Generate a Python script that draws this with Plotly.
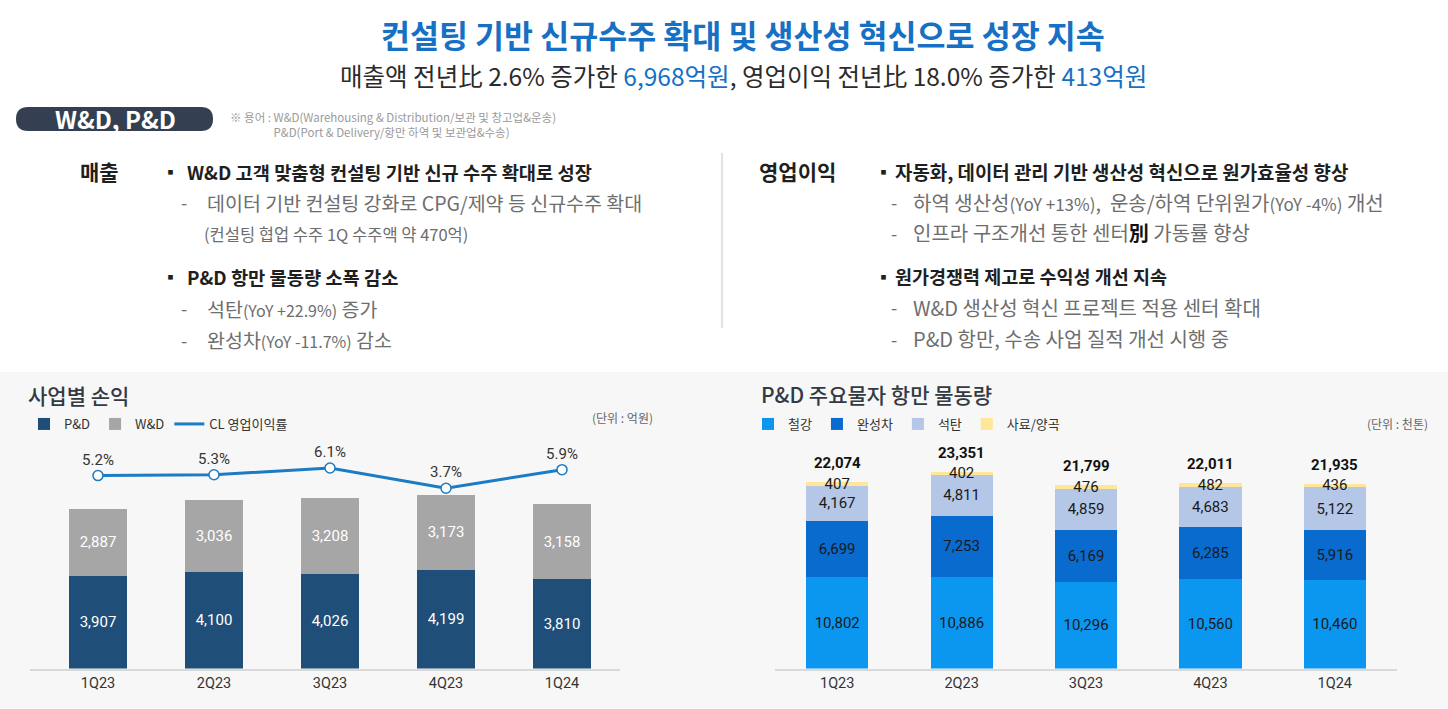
import plotly.graph_objects as go

W, H = 1448, 709

# ---------------- data ----------------
quarters = ["1Q23", "2Q23", "3Q23", "4Q23", "1Q24"]
pd_rev = [3907, 4100, 4026, 4199, 3810]
wd_rev = [2887, 3036, 3208, 3173, 3158]
cl_margin = [5.2, 5.3, 6.1, 3.7, 5.9]

steel = [10802, 10886, 10296, 10560, 10460]
cars = [6699, 7253, 6169, 6285, 5916]
coal = [4167, 4811, 4859, 4683, 5122]
grain = [407, 402, 476, 482, 436]
totals = [22074, 23351, 21799, 22011, 21935]

# ---------------- helpers ----------------
def px(x):
    return x / W


def py(y):
    return 1 - y / H


KR = "Noto Sans CJK KR, Noto Sans, sans-serif"
NUM = "Liberation Sans Narrow, Roboto, Noto Sans CJK KR, sans-serif"
BLUE = "#1670c4"
DARK = "#1f1f1f"
GRAY = "#6e6e6e"

BASE = 668.5
TOP = 440.0
L_SCALE = 0.02355   # px per 억원
R_SCALE = 0.00843   # px per 천톤
M_ZERO = 519.6      # pixel of 0% on margin axis
M_SCALE = 8.46      # px per 1%

fig = go.Figure()

# ---------------- left chart ----------------
fig.add_trace(go.Bar(
    x=quarters, y=pd_rev, name="P&D", marker=dict(color="#1f4e79", line=dict(width=0)),
    text=[f"{v:,}" for v in pd_rev], textposition="inside", insidetextanchor="middle",
    textfont=dict(color="white", size=15, family=NUM),
    xaxis="x", yaxis="y", legend="legend", hoverinfo="skip"))
fig.add_trace(go.Bar(
    x=quarters, y=wd_rev, name="W&D", marker=dict(color="#a6a6a6", line=dict(width=0)),
    text=[f"{v:,}" for v in wd_rev], textposition="inside", insidetextanchor="middle",
    textfont=dict(color="white", size=15, family=NUM),
    xaxis="x", yaxis="y", legend="legend", hoverinfo="skip"))
fig.add_trace(go.Scatter(
    x=quarters, y=cl_margin, mode="lines", name="CL 영업이익률",
    line=dict(color="#1b7bc4", width=3), xaxis="x", yaxis="y2", legend="legend",
    hoverinfo="skip"))
fig.add_trace(go.Scatter(
    x=quarters, y=cl_margin, mode="markers+text", showlegend=False,
    marker=dict(size=10, color="white", line=dict(color="#1b7bc4", width=1.5)),
    text=[f"{v}%" for v in cl_margin], textposition="top center",
    textfont=dict(size=15, color="#333333", family=NUM),
    xaxis="x", yaxis="y2", hoverinfo="skip", cliponaxis=False))

# ---------------- right chart ----------------
for vals, name, col in [(steel, "철강", "#0b96ef"), (cars, "완성차", "#0a6bcf"),
                        (coal, "석탄", "#b4c7e7"), (grain, "사료/양곡", "#ffe699")]:
    fig.add_trace(go.Bar(
        x=quarters, y=vals, name=name, marker=dict(color=col, line=dict(width=0)),
        text=[f"{v:,}" for v in vals], textposition="inside", insidetextanchor="middle",
        textfont=dict(color="#1a1a1a", size=15, family=NUM),
        xaxis="x2", yaxis="y3", legend="legend2", hoverinfo="skip"))

annotations = []
for q, t in zip(quarters, totals):
    annotations.append(dict(x=q, y=t, xref="x2", yref="y3", yshift=19, showarrow=False,
                            text=f"<b>{t:,}</b>",
                            font=dict(size=15, color="#111111", family=NUM)))

# ---------------- text blocks ----------------
def note(x, y, text, size, color=DARK, anchor="left", family=KR, weight=None):
    f = dict(size=size, color=color, family=family)
    if weight:
        f["weight"] = weight
    annotations.append(dict(x=px(x), y=py(y), xref="paper", yref="paper", text=text,
                            showarrow=False, xanchor=anchor, yanchor="middle", font=f,
                            align="left"))

note(743, 33.5, "<b>컨설팅 기반 신규수주 확대 및 생산성 혁신으로 성장 지속</b>", 31.5, BLUE, "center")
note(743, 75, f"매출액 전년比 2.6% 증가한 <span style='color:{BLUE}'>6,968억원</span>, "
              f"영업이익 전년比 18.0% 증가한 <span style='color:{BLUE}'>413억원</span>",
     24.5, "#2b2b2b", "center")

note(115, 119, "<b>W&D, P&D</b>", 24, "white", "center")
note(228, 125, "※ 용어 : W&D(Warehousing & Distribution/보관 및 창고업&운송)<br>"
               "<span style='color:rgba(0,0,0,0)'>※ 용어 : </span>"
               "P&D(Port & Delivery/항만 하역 및 보관업&수송)", 11.5, "#9a9a9a")

SM = "<span style='font-size:16px'>"
SM2 = "<span style='font-size:17px'>"
# left column
note(78, 171, "<b>매출</b>", 21)
note(160, 171, "<b>▪</b>", 17)
note(185, 171, "<b>W&D 고객 맞춤형 컨설팅 기반 신규 수주 확대로 성장</b>", 18.7)
note(179, 202, "-", 18, GRAY)
note(205, 202, "데이터 기반 컨설팅 강화로 CPG/제약 등 신규수주 확대", 19.5, GRAY)
note(202, 234, "(컨설팅 협업 수주 1Q 수주액 약 470억)", 16.5, GRAY)
note(160, 276, "<b>▪</b>", 17)
note(185, 276, "<b>P&D 항만 물동량 소폭 감소</b>", 18.7)
note(179, 308, "-", 18, GRAY)
note(205, 308, f"석탄{SM}(YoY +22.9%)</span> 증가", 19.5, GRAY)
note(179, 340, "-", 18, GRAY)
note(205, 340, f"완성차{SM}(YoY -11.7%)</span> 감소", 19.5, GRAY)

# right column
note(757, 171, "<b>영업이익</b>", 21)
note(873, 171, "<b>▪</b>", 17)
note(893, 171, "<b>자동화, 데이터 관리 기반 생산성 혁신으로 원가효율성 향상</b>", 18.9)
note(889, 202, "-", 18, GRAY)
note(911, 202, f"하역 생산성{SM2}(YoY +13%)</span>,  운송/하역 단위원가"
               f"{SM2}(YoY -4%)</span> 개선", 20, GRAY)
note(889, 233, "-", 18, GRAY)
note(911, 233, "인프라 구조개선 통한 센터<span style='color:#111111'><b>別</b></span> 가동률 향상", 20, GRAY)
note(873, 276, "<b>▪</b>", 17)
note(893, 276, "<b>원가경쟁력 제고로 수익성 개선 지속</b>", 18.5)
note(889, 307, "-", 18, GRAY)
note(911, 307, "W&D 생산성 혁신 프로젝트 적용 센터 확대", 20, GRAY)
note(889, 339, "-", 18, GRAY)
note(911, 339, "P&D 항만, 수송 사업 질적 개선 시행 중", 20, GRAY)

# chart titles / units
note(26, 395, "사업별 손익", 21, "#333a44", weight=500)
note(759, 394, "P&D 주요물자 항만 물동량", 21, "#333a44", weight=500)
note(655, 417, "(단위 : 억원)", 12, "#666666", "right")
note(1430, 424, "(단위 : 천톤)", 12, "#666666", "right")

# ---------------- shapes ----------------
x0, x1, y0, y1, r = 16, 213, 107, 131, 12
pill = (f"M {px(x0 + r)},{py(y0)} L {px(x1 - r)},{py(y0)} "
        f"Q {px(x1)},{py(y0)} {px(x1)},{py(y0 + r)} "
        f"Q {px(x1)},{py(y1)} {px(x1 - r)},{py(y1)} "
        f"L {px(x0 + r)},{py(y1)} "
        f"Q {px(x0)},{py(y1)} {px(x0)},{py(y1 - r)} "
        f"Q {px(x0)},{py(y0)} {px(x0 + r)},{py(y0)} Z")
shapes = [
    dict(type="rect", xref="paper", yref="paper", x0=0, x1=1, y0=0, y1=py(372),
         fillcolor="#f7f7f7", line=dict(width=0), layer="below"),
    dict(type="path", xref="paper", yref="paper", path=pill, fillcolor="#343f51",
         line=dict(width=0), layer="below"),
    dict(type="line", xref="paper", yref="paper", x0=px(722), x1=px(722), y0=py(153), y1=py(328),
         line=dict(color="#cfcfcf", width=1.2)),
]

ydom = [py(BASE), py(TOP)]
axis_common = dict(showline=True, linecolor="#d9d9d9", linewidth=1.5, ticks="",
                   showgrid=False, zeroline=False, fixedrange=True,
                   tickfont=dict(size=14.5, color="#333333", family=NUM))

fig.update_layout(
    width=W, height=H, margin=dict(l=0, r=0, t=0, b=0),
    paper_bgcolor="white", plot_bgcolor="rgba(0,0,0,0)",
    barmode="stack", bargap=0.5,
    uniformtext=dict(mode="show", minsize=15),
    xaxis=dict(domain=[px(30), px(620)], range=[-0.586, 4.5], anchor="y", **axis_common),
    yaxis=dict(domain=ydom, range=[0, (BASE - TOP) / L_SCALE], visible=False, anchor="x"),
    yaxis2=dict(overlaying="y", range=[(M_ZERO - BASE) / M_SCALE, (M_ZERO - TOP) / M_SCALE],
                visible=False, anchor="x"),
    xaxis2=dict(domain=[px(775), px(1397)], range=[-0.5, 4.5], anchor="y3", **axis_common),
    yaxis3=dict(domain=ydom, range=[0, (BASE - TOP) / R_SCALE], visible=False, anchor="x2"),
    legend=dict(orientation="h", x=px(24), y=py(424), xanchor="left", yanchor="middle",
                font=dict(size=13, color="#333333", family=KR), bgcolor="rgba(0,0,0,0)",
                itemwidth=30, traceorder="normal"),
    legend2=dict(orientation="h", x=px(748), y=py(424), xanchor="left", yanchor="middle",
                 font=dict(size=13, color="#333333", family=KR), bgcolor="rgba(0,0,0,0)",
                 itemwidth=30, traceorder="normal"),
    annotations=annotations,
    shapes=shapes,
    showlegend=True,
    hovermode=False,
)

fig.write_html("out.html", config={"displayModeBar": False},
               post_script="document.body.style.margin='0';document.body.style.overflow='hidden';")
